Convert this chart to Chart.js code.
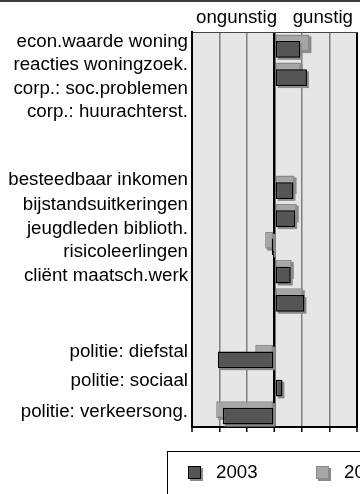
<!DOCTYPE html>
<html>
<head>
<meta charset="utf-8">
<script src="https://cdn.jsdelivr.net/npm/chart.js@4.4.0/dist/chart.umd.min.js"></script>
<style>
  html, body { margin: 0; padding: 0; background: #fff; overflow: hidden; }
</style>
</head>
<body>
<canvas id="chart" width="360" height="494"></canvas>
<script>
// rows of the chart, top to bottom ('' = empty spacer row)
const categories = [
    'econ.waarde woning', 'reacties woningzoek.', 'corp.: soc.problemen', 'corp.: huurachterst.', '',
    'besteedbaar inkomen', 'bijstandsuitkeringen', 'jeugdleden biblioth.', 'risicoleerlingen', 'cliënt maatsch.werk', '',
    'politie: diefstal', 'politie: sociaal', 'politie: verkeersong.'
];
const seriesNames = ['2003', '2002'];
const values2003 = [0.93, 1.18, null, null, null, 0.69, 0.75, -0.10, 0.59, 1.09, null, -2.06, 0.29, -1.88];
const valuesPrev = [1.27, 0.96, null, null, null, 0.73, 0.81, -0.34, 0.63, 1.03, null, -0.70, 0, -2.12];
const axisMin = -3;
const axisMax = 3;
const axisTitle = 'ongunstig   gunstig';

const FONT = '"Liberation Sans", Arial, sans-serif';
const FONT_SIZE = 18.7;
const SHADOW = '#8c8c8c';
const PREV = 0, CUR = 1;

function drawShadows(chart, meta, index) {
    const ctx = chart.ctx;
    ctx.save();
    ctx.fillStyle = SHADOW;
    meta.data.forEach((bar, i) => {
        const v = chart.data.datasets[index].data[i];
        if (v === null || v === 0) return;
        const {x, y, base, height} = bar.getProps(['x', 'y', 'base', 'height'], true);
        ctx.fillRect(Math.min(x, base) + 2, y - height / 2 + 2, Math.abs(x - base), height);
    });
    ctx.restore();
}

// the older series sits behind the 2003 bars, both with a drop shadow
const barLayers = {
    id: 'barLayers',
    beforeDatasetDraw(chart, args) {
        if (args.index === CUR) return false;
        drawShadows(chart, args.meta, args.index);
    },
    afterDatasetsDraw(chart) {
        const meta = chart.getDatasetMeta(CUR);
        drawShadows(chart, meta, CUR);
        meta.controller.draw();
    }
};

const plotBackground = {
    id: 'plotBackground',
    beforeDraw(chart) {
        const {ctx, chartArea: a} = chart;
        ctx.save();
        ctx.fillStyle = '#e6e6e6';
        ctx.fillRect(a.left, a.top, a.right - a.left, a.bottom - a.top);
        ctx.fillStyle = '#3c3c3c';
        ctx.fillRect(0, 0, chart.width, 2);
        ctx.restore();
    }
};

// row labels were placed as loose text blocks, not exactly on the bars
const labelNudge = [0.4, -4.3, -8.5, -14.1, 0, -2.2, -5.4, -9.6, -14.5, -19.3, 0, 0.2, 1.3, 3.8];
const rowLabels = {
    id: 'rowLabels',
    afterDraw(chart) {
        const ctx = chart.ctx;
        const yScale = chart.scales.y;
        ctx.save();
        ctx.font = FONT_SIZE + 'px ' + FONT;
        ctx.fillStyle = '#000';
        ctx.textAlign = 'right';
        ctx.textBaseline = 'alphabetic';
        categories.forEach((label, i) => {
            if (!label) return;
            ctx.fillText(label, chart.chartArea.left - 4, yScale.getPixelForValue(i) + labelNudge[i]);
        });
        ctx.restore();
    }
};

const boxLegend = {
    id: 'boxLegend',
    afterDraw(chart) {
        const ctx = chart.ctx;
        ctx.save();
        ctx.strokeStyle = '#000';
        ctx.lineWidth = 1;
        ctx.strokeRect(167.5, 451.5, 300, 100);
        ctx.font = FONT_SIZE + 'px ' + FONT;
        ctx.textBaseline = 'alphabetic';
        [[CUR, 188], [PREV, 316]].forEach(([ds, x]) => {
            const d = chart.data.datasets[ds];
            ctx.fillStyle = SHADOW;
            ctx.fillRect(x + 2, 468, 13, 13);
            ctx.fillStyle = d.backgroundColor;
            ctx.fillRect(x, 466, 13, 13);
            ctx.strokeStyle = d.borderColor;
            ctx.strokeRect(x + 0.5, 466.5, 12, 12);
            ctx.fillStyle = '#000';
            ctx.fillText(d.label, x + 28, 478);
        });
        ctx.restore();
    }
};

new Chart(document.getElementById('chart'), {
    type: 'bar',
    data: {
        labels: categories,
        datasets: [{
            label: seriesNames[1],
            data: valuesPrev,
            backgroundColor: '#a6a6a6',
            borderColor: '#8a8a8a',
            borderWidth: 1.5
        }, {
            label: seriesNames[0],
            data: values2003,
            backgroundColor: '#555555',
            borderColor: '#000000',
            borderWidth: 1.5
        }]
    },
    options: {
        indexAxis: 'y',
        responsive: false,
        animation: false,
        datasets: {
            bar: {
                categoryPercentage: 0.475,
                barPercentage: 2.5,
                borderSkipped: false
            }
        },
        layout: { padding: { left: 192, right: 3, top: 0, bottom: 62 } },
        plugins: {
            legend: { display: false },
            tooltip: { enabled: false }
        },
        scales: {
            x: {
                type: 'linear',
                min: axisMin,
                max: axisMax,
                ticks: { stepSize: 1, display: false },
                grid: {
                    color: c => (c.tick && (c.tick.value === 0 || Math.abs(c.tick.value) === 3)) ? '#000' : '#7f7f7f',
                    lineWidth: c => (c.tick && c.tick.value === 0) ? 2.5 : (c.tick && Math.abs(c.tick.value) === 3 ? 2 : 1.5),
                    drawTicks: true,
                    tickLength: 5,
                    tickColor: '#000',
                    tickWidth: 1.5
                },
                border: { color: '#000', width: 2 },
                afterFit: s => { s.height = 5; }
            },
            x2: {
                type: 'linear',
                position: 'top',
                min: axisMin,
                max: axisMax,
                ticks: { display: false },
                grid: { display: false },
                border: { display: true, color: '#444', width: 1 },
                title: {
                    display: true,
                    text: axisTitle,
                    color: '#000',
                    font: { family: FONT, size: FONT_SIZE },
                    padding: { top: 6.5, bottom: 3.3 }
                },
                afterFit: s => { s.height = 32; }
            },
            y: {
                type: 'category',
                ticks: { display: false },
                grid: { display: false },
                border: { color: '#000', width: 2 },
                afterFit: s => { s.width = 0; }
            }
        }
    },
    plugins: [plotBackground, barLayers, rowLabels, boxLegend]
});
</script>
</body>
</html>
